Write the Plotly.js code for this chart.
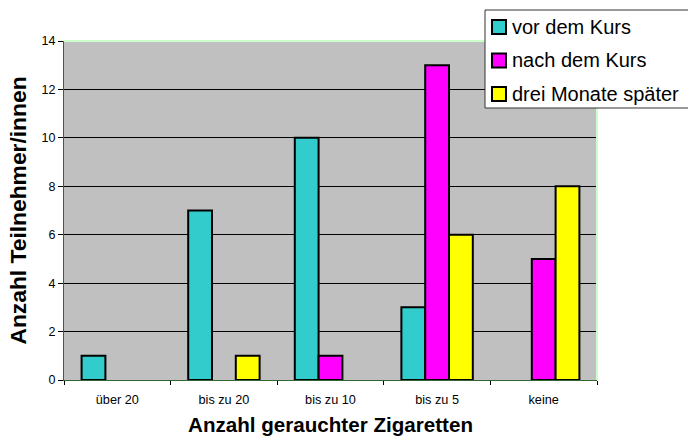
<!DOCTYPE html>
<html><head><meta charset="utf-8">
<script src="https://cdn.plot.ly/plotly-3.0.1.min.js"></script>
<style>body{margin:0;background:#fff}</style>
</head><body><div id="c" style="width:688px;height:441px"></div>
<script>
const categories = ["über 20", "bis zu 20", "bis zu 10", "bis zu 5", "keine"];
const vorDemKurs = [1, 7, 10, 3, 0];
const nachDemKurs = [0, 0, 1, 13, 5];
const dreiMonateSpaeter = [0, 1, 0, 6, 8];
const seriesNames = ["vor dem Kurs", "nach dem Kurs", "drei Monate später"];
const colors = ["#33CCCC", "#FF00FF", "#FFFF00"];
const yTicks = [0, 2, 4, 6, 8, 10, 12, 14];

const font = "Liberation Sans, Arial, sans-serif";
const W = 688, H = 441, M = {l: 64, r: 91, t: 41, b: 61};
const pw = W - M.l - M.r, ph = H - M.t - M.b;
const px = x => (x - M.l) / pw;
const py = y => (H - M.b - y) / ph;

const data = [vorDemKurs, nachDemKurs, dreiMonateSpaeter].map((v, i) => ({
  type: "bar", x: categories, y: v, name: seriesNames[i],
  marker: {color: colors[i], line: {color: "#000", width: v.map(d => d === 0 ? 0 : 2)}},
  hoverinfo: "x+y+name"
}));

// legend box (custom, Excel-style)
const shapes = [
  {type: "line", xref: "paper", yref: "paper", x0: 0, x1: 1, y0: 1, y1: 1, line: {color: "#CCFFCC", width: 2}},
  {type: "line", xref: "paper", yref: "paper", x0: 1, x1: 1, y0: 0, y1: 1, line: {color: "#CCFFCC", width: 2}},
  {type: "rect", xref: "paper", yref: "paper", x0: px(485), x1: px(700), y0: py(108), y1: py(10),
   fillcolor: "#fff", line: {color: "#333", width: 1}}
];
const annotations = [];
const rowY = [27, 60.5, 94];
seriesNames.forEach((n, i) => {
  shapes.push({type: "rect", xref: "paper", yref: "paper", x0: px(492), x1: px(506),
    y0: py(rowY[i] + 7), y1: py(rowY[i] - 7), fillcolor: colors[i], line: {color: "#000", width: 2}});
  annotations.push({xref: "paper", yref: "paper", x: px(510), y: py(rowY[i]), xanchor: "left", yanchor: "middle",
    text: n, showarrow: false, font: {size: 20, family: font, color: "#000"}});
});

const layout = {
  width: W, height: H,
  margin: M,
  paper_bgcolor: "#fff", plot_bgcolor: "#C0C0C0",
  font: {family: font, color: "#000"},
  barmode: "group", bargap: 0.33, bargroupgap: 0,
  showlegend: false,
  xaxis: {
    type: "category", tickson: "boundaries", ticks: "outside", ticklen: 4, tickcolor: "#000",
    ticklabelstandoff: 8,
    showline: true, linecolor: "#336633", linewidth: 1,
    tickfont: {size: 12.7}, showgrid: false,
    title: {text: "<b>Anzahl gerauchter Zigaretten</b>", font: {size: 20.6}, standoff: 11}
  },
  yaxis: {
    range: [0, 14], tickvals: yTicks, ticks: "outside", ticklen: 5, tickcolor: "#000",
    showline: true, linecolor: "#336633", linewidth: 1,
    showgrid: true, gridcolor: "#000", gridwidth: 1, zeroline: false,
    tickfont: {size: 12.5},
    title: {text: "<b>Anzahl Teilnehmer/innen</b>", font: {size: 22.8}, standoff: 8}
  },
  shapes: shapes,
  annotations: annotations
};
Plotly.newPlot("c", data, layout, {displayModeBar: false});
</script></body></html>
